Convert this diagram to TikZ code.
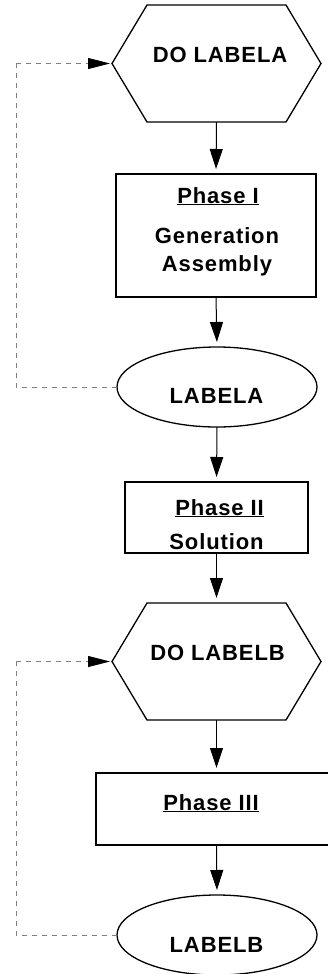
\documentclass[tikz,border=0pt]{standalone}
\usepackage{fontspec}
\setmainfont{Liberation Sans}[LetterSpace=4]
\usetikzlibrary{arrows.meta,shapes.geometric}
\begin{document}
\begin{tikzpicture}[x=1pt,y=-1pt,
  shapeline/.style={draw=black,line width=1.3pt},
  holder/.style={inner sep=0pt,outer sep=0pt},
  boxnode/.style={shapeline,rectangle,inner sep=0pt,outer sep=0pt},
  ovalnode/.style={shapeline,ellipse,inner sep=0pt,outer sep=0pt,minimum width=200pt,minimum height=80pt},
  txt/.style={inner sep=0pt,anchor=base,font=\fontsize{22pt}{26pt}\selectfont\bfseries},
  flow/.style={draw=black,line width=1pt,-{Triangle[length=20pt,width=13pt]},shorten >=5pt},
  loopline/.style={draw=black!50,line width=0.9pt,dash pattern=on 5pt off 5pt},
  looparrow/.style={loopline,-{Triangle[length=22pt,width=11pt,color=black,fill=black]},shorten >=2pt}
]
\useasboundingbox (0,0) rectangle (328,974);
\clip (0,0) rectangle (328,974);

% Hexagon A
\node[holder,minimum width=209pt,minimum height=117pt] (hexA) at (216.5,63.5) {};
\draw[shapeline] (hexA.west) -- ([xshift=35pt]hexA.north west) -- ([xshift=-35pt]hexA.north east)
  -- (hexA.east) -- ([xshift=-35pt]hexA.south east) -- ([xshift=35pt]hexA.south west) -- cycle;
\node[txt] (tA) at (220,62.7) {DO LABELA};

% Phase I box
\node[boxnode,minimum width=200pt,minimum height=123pt] (p1) at (216,235.5) {};
\node[txt] (p1a) at (218,203) {\underline{Phase I}};
\node[txt] (p1b) at (217,243) {Generation};
\node[txt] (p1c) at (217,271) {Assembly};

% Ellipse A
\node[ovalnode] (ellA) at (217,387) {};
\node[txt] (tLA) at (216.5,403) {LABELA};

% Phase II box
\node[boxnode,minimum width=183pt,minimum height=71pt] (p2) at (216.5,517.5) {};
\node[txt] (p2a) at (219.5,515) {\underline{Phase II}};
\node[txt] (p2b) at (216.5,549) {Solution};

% Hexagon B
\node[holder,minimum width=209pt,minimum height=117pt] (hexB) at (216.5,661.5) {};
\draw[shapeline] (hexB.west) -- ([xshift=35pt]hexB.north west) -- ([xshift=-35pt]hexB.north east)
  -- (hexB.east) -- ([xshift=-35pt]hexB.south east) -- ([xshift=35pt]hexB.south west) -- cycle;
\node[txt] (tB) at (217.5,660) {DO LABELB};

% Phase III box
\node[boxnode,minimum width=244pt,minimum height=72pt] (p3) at (218,809) {};
\node[txt] (p3a) at (211,810) {\underline{Phase III}};

% Ellipse B
\node[ovalnode] (ellB) at (217,935) {};
\node[txt] (tLB) at (216.5,952) {LABELB};

% Flow arrows
\draw[flow] (hexA.south) -- (p1.north);
\draw[flow] (p1.south) -- (ellA.north);
\draw[flow] (ellA.south) -- (p2.north);
\draw[flow] (p2.south) -- (hexB.north);
\draw[flow] (hexB.south) -- (p3.north -| hexB.south);
\draw[flow] (p3.south -| hexB.south) -- (ellB.north);

% Loops
\coordinate (lA1) at (16,387);
\coordinate (lA2) at (16,63.5);
\draw[loopline] (ellA.west) -- (lA1) -- (lA2);
\draw[looparrow] (lA2) -- (hexA.west);
\coordinate (lB1) at (16,935);
\coordinate (lB2) at (16,661.5);
\draw[loopline] (ellB.west) -- (lB1) -- (lB2);
\draw[looparrow] (lB2) -- (hexB.west);
\end{tikzpicture}
\end{document}
